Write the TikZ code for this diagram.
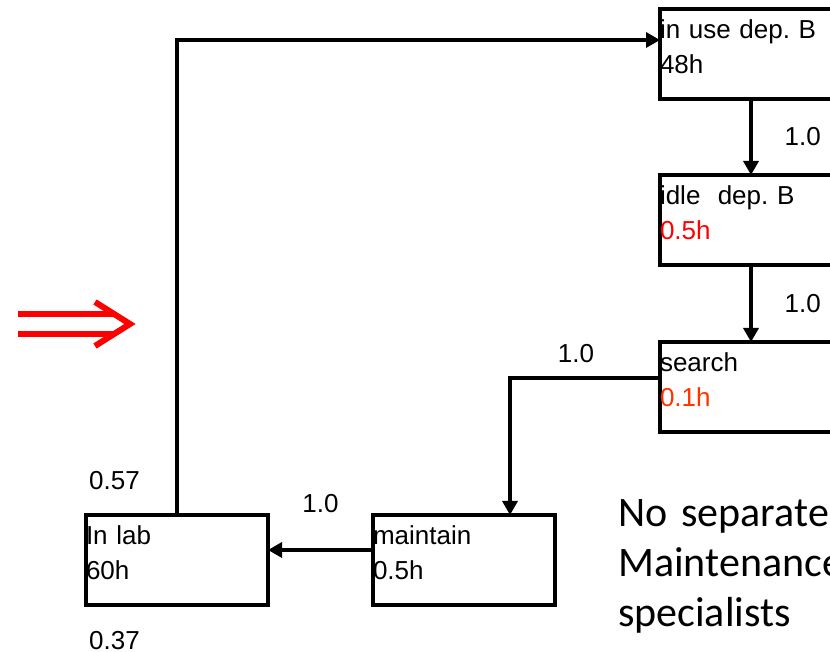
\documentclass[tikz,border=0pt]{standalone}
\usepackage{fontspec}
\setmainfont{Liberation Sans}
\newfontfamily\notefont{Carlito}
\usetikzlibrary{arrows.meta,positioning}
\definecolor{hotred}{RGB}{255,51,0}
\frenchspacing
\tikzset{
  stbox/.style={draw, line width=4pt, anchor=north west, outer sep=0pt, inner sep=0pt,
                minimum width=182pt, minimum height=90pt, text width=182pt, align=left,
                font=\fontsize{26}{35}\selectfont, text height=19pt, text depth=49pt},
  prob/.style={inner sep=0pt, font=\fontsize{26}{31}\selectfont},
  link/.style={-{Triangle[length=14pt,width=15pt]}, line width=3.4pt}
}

\begin{document}
\begin{tikzpicture}[x=1pt,y=1pt]
  \useasboundingbox (0,0) rectangle (830,652);
  \clip (0,0) rectangle (830,652);

  % states
  \node[stbox] (inuse) at (660,643) {in use dep. B\\48h};
  \node[stbox] (idle) at (660,477) {idle\ \ dep. B\\\textcolor{red}{0.5h}};
  \node[stbox] (search) at (660,310) {search\\\textcolor{hotred}{0.1h}};
  \node[stbox] (maint) at (373,137) {maintain\\0.5h};
  \node[stbox] (inlab) at (86,137) {In lab\\60h};

  % transitions
  \draw[link] (inuse) -- node[prob, right=32pt] (p1) {1.0} (idle);
  \draw[link] (idle) -- node[prob, right=32pt] (p2) {1.0} (search);
  \draw[link] ([yshift=9pt]search.west) -| node[prob, pos=.28, above=14pt] (p3) {1.0}
    ([xshift=46pt]maint.north);
  \draw[link] ([yshift=10pt]maint.west) -- node[prob, above=36pt] (p4) {1.0}
    ([yshift=10pt]inlab.east);
  \draw[link] (inlab.north) |- ([yshift=14pt]inuse.west);

  \node[prob, anchor=base west] (p57) at ([xshift=3pt,yshift=25pt]inlab.north west) {0.57};
  \node[prob, anchor=base west] (p37) at ([xshift=3pt,yshift=-45pt]inlab.south west) {0.37};

  % red hint arrow
  \draw[red, line width=6pt] (18,338) -- (115,338) (18,318) -- (115,318);
  \draw[red, line width=6pt] (95,350) -- (130,328) -- (95,306);

  \node[anchor=base west, inner sep=0pt, text width=300pt, align=left,
        font=\notefont\fontsize{42}{50}\selectfont] (note) at (618,125)
    {No separate\\Maintenance\\specialists};
\end{tikzpicture}
\end{document}
